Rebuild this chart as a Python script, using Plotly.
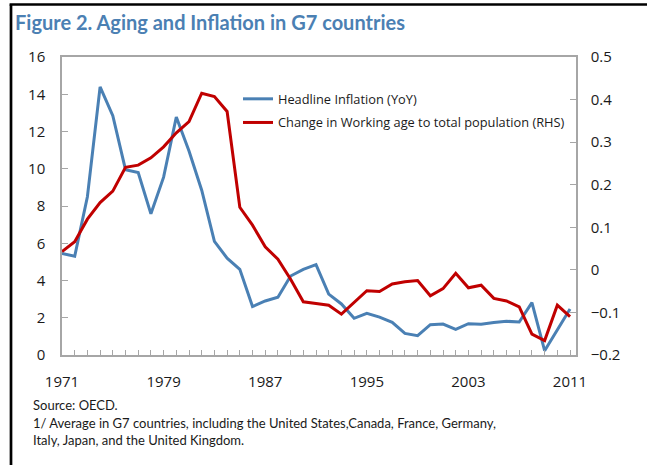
import plotly.graph_objects as go

years = list(range(1971, 2012))
inflation = [5.45, 5.3, 8.5, 14.4, 12.85, 9.95, 9.8, 7.58, 9.55, 12.78,
             10.95, 8.85, 6.1, 5.2, 4.6, 2.6, 2.9, 3.1, 4.24, 4.6,
             4.85, 3.27, 2.74, 1.97, 2.24, 2.03, 1.75, 1.16, 1.04, 1.63,
             1.66, 1.38, 1.68, 1.65, 1.74, 1.81, 1.77, 2.81, 0.23, 1.38,
             2.47]
working_age = [0.043, 0.066, 0.119, 0.158, 0.185, 0.241, 0.246, 0.263, 0.289, 0.322,
               0.348, 0.415, 0.407, 0.372, 0.147, 0.105, 0.054, 0.025, -0.022, -0.075,
               -0.079, -0.083, -0.104, -0.076, -0.049, -0.051, -0.033, -0.028, -0.025, -0.061,
               -0.044, -0.008, -0.042, -0.036, -0.067, -0.073, -0.087, -0.151, -0.166, -0.083,
               -0.110]

title_text = "Figure 2. Aging and Inflation in G7 countries"
notes = ["Source: OECD.",
         "1/ Average in G7 countries, including the United States,Canada, France, Germany,",
         "Italy, Japan, and the United Kingdom."]

BLUE = "#4a80b4"
RED = "#c00000"
AXIS = "#a6a6a6"
TXT = "#1a1a1a"

# pixel geometry helpers (plot area 62..576 x, 57..355 y)
L, R, T, B = 62, 576, 57, 355
W, H = 647, 465
def px(x):
    return (x - L) / (R - L)
def py(y):
    return (B - y) / (B - T)

fig = go.Figure()
fig.add_trace(go.Scatter(x=years, y=inflation, mode="lines", name="Headline Inflation (YoY)",
                         line=dict(color=BLUE, width=3), legendgroup="a"))
fig.add_trace(go.Scatter(x=years, y=working_age, mode="lines",
                         name="Change in Working age to total population (RHS)",
                         line=dict(color=RED, width=3), yaxis="y2", legendgroup="b"))

fig.update_layout(
    width=W, height=H,
    margin=dict(l=L, r=W - R, t=T, b=H - B, pad=0),
    paper_bgcolor="white", plot_bgcolor="white",
    font=dict(family="Open Sans, Noto Sans, sans-serif", size=15, color=TXT),
    showlegend=True,
    legend=dict(x=px(238), y=py(84), xanchor="left", yanchor="top",
                bgcolor="rgba(0,0,0,0)", font=dict(size=12.8, family="Open Sans"),
                itemwidth=30, tracegroupgap=4, traceorder="grouped"),
    xaxis=dict(range=[1971, 2011.47], tickmode="linear", tick0=1971, dtick=8,
               ticks="inside", ticklen=5, tickcolor=AXIS, showgrid=False, zeroline=False,
               showline=True, linecolor=AXIS, linewidth=1.5, mirror=True,
               ticklabelstandoff=12,
               minor=dict(dtick=1, tick0=1971, ticks="inside", ticklen=5, tickcolor=AXIS, showgrid=False)),
    yaxis=dict(range=[0, 16], dtick=2, ticks="inside", ticklen=6, tickcolor=AXIS,
               showgrid=False, zeroline=False, showline=True, linecolor=AXIS, linewidth=1.5,
               mirror=True, ticklabelstandoff=12),
    yaxis2=dict(range=[-0.2, 0.5], dtick=0.1, overlaying="y", side="right",
                ticks="inside", ticklen=6, tickcolor=AXIS, showgrid=False, zeroline=False,
                showline=True, linecolor=AXIS, linewidth=1.5, ticklabelstandoff=10,
                tickformat=".1~f"),
)

# outer frame (left and top black lines)
fig.add_shape(type="line", xref="paper", yref="paper",
              x0=px(11), x1=px(11), y0=py(4.5), y1=py(470), line=dict(color="black", width=2.7))
fig.add_shape(type="line", xref="paper", yref="paper",
              x0=px(9.6), x1=px(650), y0=py(4.5), y1=py(4.5), line=dict(color="black", width=2.7))

fig.add_annotation(text="<b>" + title_text + "</b>", xref="paper", yref="paper",
                   x=px(13), y=py(22), xanchor="left", yanchor="middle", showarrow=False,
                   font=dict(family="Lato, sans-serif", size=20, color="#4b80b3"))

for txt, yc in zip(notes, [405, 423, 440]):
    fig.add_annotation(text=txt, xref="paper", yref="paper", x=px(31), y=py(yc),
                       xanchor="left", yanchor="middle", showarrow=False,
                       font=dict(family="Lato, sans-serif", size=13, color=TXT))

fig.write_html("out.html", config={"displayModeBar": False},
               post_script="document.body.style.margin='0';document.body.style.overflow='hidden';")
